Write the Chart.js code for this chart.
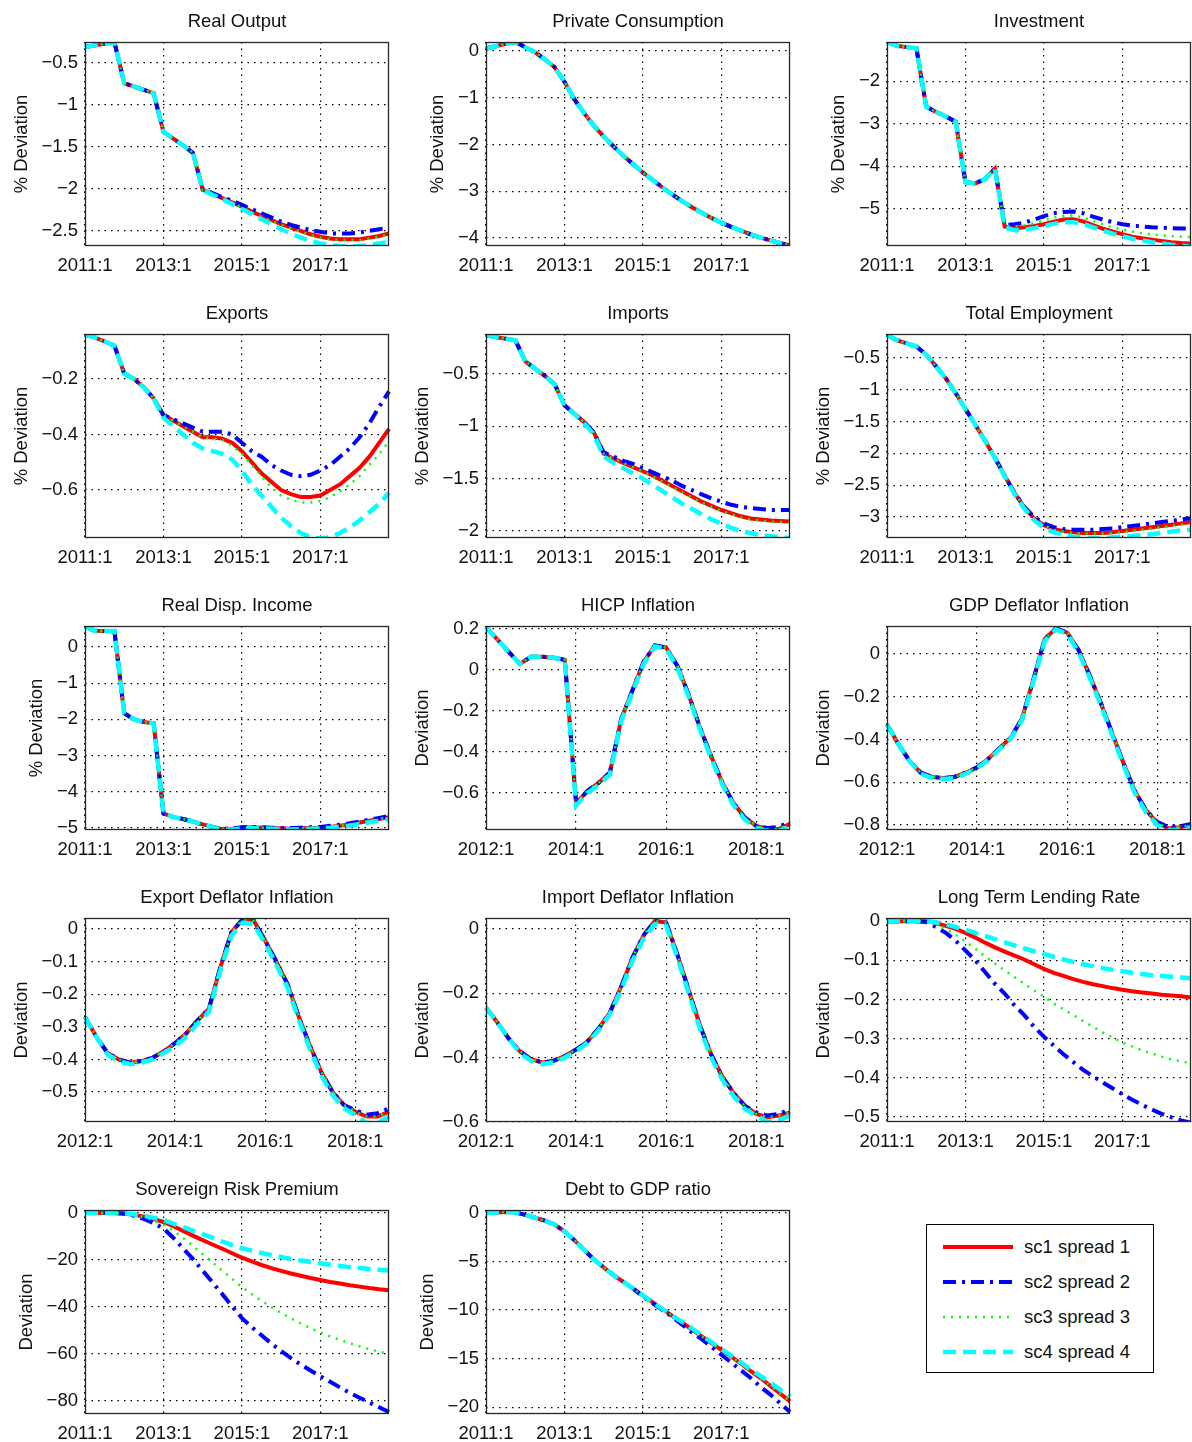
<!DOCTYPE html>
<html>
<head>
<meta charset="utf-8">
<script src="https://cdn.jsdelivr.net/npm/chart.js@4.4.1/dist/chart.umd.min.js"></script>
<style>
  body { margin: 0; background: #fff; overflow: hidden; }
  #page { position: relative; width: 1192px; height: 1442px; overflow: hidden; background: #fff; }
  #page canvas { position: absolute; }
  #legend { position: absolute; left: 926px; top: 1224px; width: 226px; height: 147px; border: 1px solid #000; background: #fff; }
  #legend span { position: absolute; left: 97px; height: 22px; line-height: 22px; font: 18.5px "Liberation Sans", Arial, sans-serif; color: #111; white-space: nowrap; }
</style>
</head>
<body>
<div id="page"></div>
<script>
// quarters on the x axis
const q2011 = ["2011:1","2011:2","2011:3","2011:4","2012:1","2012:2","2012:3","2012:4",
  "2013:1","2013:2","2013:3","2013:4","2014:1","2014:2","2014:3","2014:4",
  "2015:1","2015:2","2015:3","2015:4","2016:1","2016:2","2016:3","2016:4",
  "2017:1","2017:2","2017:3","2017:4","2018:1","2018:2","2018:3","2018:4"];
const q2012 = ["2012:1","2012:2","2012:3","2012:4",
  "2013:1","2013:2","2013:3","2013:4","2014:1","2014:2","2014:3","2014:4",
  "2015:1","2015:2","2015:3","2015:4","2016:1","2016:2","2016:3","2016:4",
  "2017:1","2017:2","2017:3","2017:4","2018:1","2018:2","2018:3","2018:4"];

const seriesNames = ["sc1 spread 1", "sc2 spread 2", "sc3 spread 3", "sc4 spread 4"];

// Real Output
const realOut1 = [-0.31,-0.29,-0.27,-0.25,-0.74,-0.78,-0.82,-0.86,-1.32,-1.40,-1.48,-1.57,-2.01,-2.06,-2.11,-2.16,-2.21,-2.27,-2.32,-2.37,-2.42,-2.46,-2.50,-2.54,-2.57,-2.59,-2.60,-2.60,-2.60,-2.58,-2.56,-2.53];
const realOut2 = [-0.31,-0.29,-0.27,-0.25,-0.74,-0.78,-0.82,-0.86,-1.32,-1.40,-1.48,-1.57,-2.00,-2.05,-2.10,-2.14,-2.19,-2.24,-2.29,-2.34,-2.39,-2.43,-2.46,-2.49,-2.51,-2.53,-2.53,-2.53,-2.52,-2.50,-2.48,-2.46];
const realOut3 = [-0.31,-0.29,-0.27,-0.25,-0.74,-0.78,-0.82,-0.86,-1.32,-1.40,-1.48,-1.57,-2.01,-2.06,-2.11,-2.16,-2.22,-2.28,-2.33,-2.38,-2.43,-2.47,-2.51,-2.55,-2.58,-2.60,-2.61,-2.61,-2.61,-2.59,-2.57,-2.54];
const realOut4 = [-0.31,-0.29,-0.27,-0.25,-0.74,-0.78,-0.82,-0.86,-1.32,-1.40,-1.48,-1.57,-2.01,-2.07,-2.12,-2.18,-2.24,-2.30,-2.36,-2.42,-2.48,-2.53,-2.58,-2.62,-2.65,-2.67,-2.68,-2.69,-2.68,-2.67,-2.65,-2.63];

// Private Consumption (all four scenarios overlap)
const privCons = [0.05,0.10,0.15,0.19,0.08,-0.03,-0.18,-0.35,-0.66,-1.03,-1.33,-1.60,-1.83,-2.04,-2.24,-2.42,-2.60,-2.76,-2.92,-3.07,-3.21,-3.34,-3.46,-3.57,-3.67,-3.76,-3.84,-3.92,-3.99,-4.05,-4.11,-4.16];

// Investment
const invest1 = [-1.08,-1.17,-1.20,-1.23,-2.60,-2.72,-2.83,-2.95,-4.37,-4.40,-4.30,-4.05,-5.41,-5.45,-5.43,-5.40,-5.36,-5.30,-5.25,-5.24,-5.29,-5.38,-5.46,-5.53,-5.59,-5.65,-5.69,-5.72,-5.75,-5.78,-5.80,-5.81];
const invest2 = [-1.08,-1.17,-1.20,-1.23,-2.60,-2.72,-2.83,-2.95,-4.37,-4.40,-4.30,-4.05,-5.38,-5.36,-5.32,-5.25,-5.17,-5.10,-5.07,-5.06,-5.10,-5.18,-5.25,-5.31,-5.36,-5.39,-5.41,-5.43,-5.44,-5.45,-5.46,-5.46];
const invest3 = [-1.08,-1.17,-1.20,-1.23,-2.60,-2.72,-2.83,-2.95,-4.37,-4.40,-4.30,-4.05,-5.40,-5.41,-5.38,-5.33,-5.27,-5.20,-5.16,-5.15,-5.20,-5.28,-5.36,-5.43,-5.48,-5.53,-5.57,-5.60,-5.62,-5.64,-5.65,-5.66];
const invest4 = [-1.08,-1.17,-1.20,-1.23,-2.60,-2.72,-2.83,-2.95,-4.37,-4.40,-4.30,-4.05,-5.43,-5.50,-5.49,-5.45,-5.40,-5.35,-5.31,-5.31,-5.35,-5.43,-5.51,-5.58,-5.64,-5.70,-5.74,-5.78,-5.81,-5.84,-5.86,-5.88];

// Exports
const exports1 = [-0.04,-0.05,-0.065,-0.08,-0.18,-0.20,-0.23,-0.27,-0.33,-0.35,-0.37,-0.39,-0.41,-0.41,-0.415,-0.43,-0.46,-0.50,-0.54,-0.57,-0.60,-0.615,-0.625,-0.625,-0.62,-0.60,-0.58,-0.55,-0.52,-0.48,-0.43,-0.38];
const exports2 = [-0.04,-0.05,-0.065,-0.08,-0.18,-0.20,-0.23,-0.27,-0.33,-0.345,-0.36,-0.375,-0.39,-0.39,-0.39,-0.40,-0.43,-0.46,-0.48,-0.51,-0.53,-0.545,-0.55,-0.545,-0.53,-0.51,-0.48,-0.45,-0.41,-0.36,-0.30,-0.245];
const exports3 = [-0.04,-0.05,-0.065,-0.08,-0.18,-0.20,-0.23,-0.27,-0.33,-0.35,-0.37,-0.39,-0.41,-0.415,-0.42,-0.44,-0.47,-0.51,-0.55,-0.59,-0.62,-0.635,-0.645,-0.645,-0.64,-0.625,-0.605,-0.58,-0.55,-0.51,-0.47,-0.425];
const exports4 = [-0.04,-0.05,-0.065,-0.08,-0.18,-0.20,-0.23,-0.27,-0.34,-0.37,-0.40,-0.43,-0.45,-0.46,-0.47,-0.49,-0.53,-0.58,-0.62,-0.66,-0.70,-0.73,-0.755,-0.77,-0.775,-0.77,-0.755,-0.735,-0.71,-0.68,-0.65,-0.61];

// Imports
const imports1 = [-0.13,-0.15,-0.165,-0.18,-0.38,-0.45,-0.52,-0.60,-0.80,-0.88,-0.96,-1.06,-1.26,-1.31,-1.35,-1.39,-1.43,-1.47,-1.52,-1.57,-1.62,-1.67,-1.72,-1.76,-1.80,-1.83,-1.86,-1.88,-1.89,-1.90,-1.905,-1.91];
const imports2 = [-0.13,-0.15,-0.165,-0.18,-0.38,-0.45,-0.52,-0.60,-0.80,-0.88,-0.96,-1.06,-1.25,-1.29,-1.33,-1.36,-1.40,-1.44,-1.48,-1.52,-1.57,-1.61,-1.65,-1.69,-1.72,-1.75,-1.77,-1.78,-1.79,-1.80,-1.80,-1.80];
const imports3 = [-0.13,-0.15,-0.165,-0.18,-0.38,-0.45,-0.52,-0.60,-0.80,-0.88,-0.96,-1.06,-1.26,-1.31,-1.35,-1.39,-1.43,-1.48,-1.53,-1.58,-1.63,-1.68,-1.73,-1.77,-1.81,-1.84,-1.87,-1.89,-1.90,-1.91,-1.915,-1.92];
const imports4 = [-0.13,-0.15,-0.165,-0.18,-0.38,-0.45,-0.52,-0.60,-0.80,-0.88,-0.97,-1.08,-1.29,-1.35,-1.40,-1.45,-1.50,-1.56,-1.62,-1.68,-1.74,-1.79,-1.84,-1.89,-1.93,-1.97,-2.00,-2.02,-2.04,-2.05,-2.06,-2.07];

// Total Employment
const employ1 = [-0.14,-0.22,-0.27,-0.32,-0.45,-0.63,-0.82,-1.05,-1.30,-1.55,-1.80,-2.07,-2.35,-2.62,-2.85,-3.02,-3.13,-3.19,-3.22,-3.24,-3.25,-3.25,-3.25,-3.24,-3.22,-3.20,-3.18,-3.16,-3.14,-3.12,-3.10,-3.08];
const employ2 = [-0.14,-0.22,-0.27,-0.32,-0.45,-0.63,-0.82,-1.05,-1.30,-1.55,-1.80,-2.07,-2.35,-2.62,-2.84,-3.00,-3.10,-3.16,-3.19,-3.20,-3.20,-3.20,-3.19,-3.18,-3.16,-3.14,-3.12,-3.10,-3.08,-3.06,-3.04,-3.02];
const employ3 = [-0.14,-0.22,-0.27,-0.32,-0.45,-0.63,-0.82,-1.05,-1.30,-1.55,-1.80,-2.07,-2.35,-2.62,-2.85,-3.02,-3.13,-3.20,-3.23,-3.25,-3.26,-3.26,-3.26,-3.25,-3.24,-3.22,-3.20,-3.18,-3.16,-3.14,-3.12,-3.10];
const employ4 = [-0.14,-0.22,-0.27,-0.32,-0.45,-0.63,-0.82,-1.05,-1.30,-1.55,-1.80,-2.07,-2.36,-2.64,-2.87,-3.05,-3.17,-3.24,-3.28,-3.31,-3.32,-3.33,-3.33,-3.32,-3.31,-3.30,-3.28,-3.27,-3.25,-3.23,-3.21,-3.20];

// Real Disp. Income
const dispInc1 = [0.56,0.45,0.44,0.44,-1.83,-2.00,-2.07,-2.11,-4.60,-4.70,-4.75,-4.82,-4.90,-4.97,-5.03,-5.02,-4.99,-4.98,-4.99,-5.00,-5.01,-5.02,-5.01,-5.00,-4.99,-4.97,-4.94,-4.90,-4.85,-4.80,-4.75,-4.70];
const dispInc2 = [0.56,0.45,0.44,0.44,-1.83,-2.00,-2.07,-2.11,-4.60,-4.70,-4.75,-4.82,-4.90,-4.97,-5.02,-5.01,-4.98,-4.97,-4.98,-4.99,-5.00,-5.00,-4.99,-4.98,-4.97,-4.94,-4.91,-4.87,-4.82,-4.77,-4.72,-4.67];
const dispInc3 = [0.56,0.45,0.44,0.44,-1.83,-2.00,-2.07,-2.11,-4.60,-4.70,-4.75,-4.82,-4.90,-4.97,-5.03,-5.02,-4.99,-4.98,-4.99,-5.00,-5.01,-5.02,-5.01,-5.00,-4.99,-4.97,-4.94,-4.90,-4.85,-4.80,-4.75,-4.70];
const dispInc4 = [0.56,0.45,0.44,0.44,-1.83,-2.00,-2.07,-2.11,-4.60,-4.70,-4.75,-4.82,-4.90,-4.97,-5.04,-5.04,-5.01,-5.00,-5.01,-5.02,-5.03,-5.04,-5.03,-5.02,-5.01,-4.99,-4.96,-4.93,-4.89,-4.84,-4.80,-4.76];

// HICP Inflation (from 2012:1)
const hicp1 = [0.21,0.15,0.09,0.03,0.065,0.065,0.06,0.05,-0.65,-0.59,-0.55,-0.50,-0.24,-0.10,0.04,0.12,0.11,0.02,-0.12,-0.28,-0.42,-0.55,-0.65,-0.72,-0.76,-0.775,-0.775,-0.75];
const hicp2 = [0.21,0.15,0.09,0.03,0.065,0.065,0.06,0.05,-0.65,-0.59,-0.55,-0.50,-0.24,-0.10,0.04,0.12,0.11,0.02,-0.12,-0.28,-0.42,-0.55,-0.65,-0.72,-0.76,-0.77,-0.765,-0.74];
const hicp3 = [0.21,0.15,0.09,0.03,0.065,0.065,0.06,0.05,-0.65,-0.59,-0.55,-0.50,-0.24,-0.10,0.04,0.12,0.11,0.02,-0.12,-0.28,-0.42,-0.55,-0.65,-0.72,-0.76,-0.775,-0.775,-0.75];
const hicp4 = [0.21,0.15,0.09,0.03,0.065,0.065,0.06,0.05,-0.66,-0.60,-0.56,-0.51,-0.25,-0.11,0.03,0.115,0.105,0.01,-0.13,-0.29,-0.43,-0.56,-0.66,-0.73,-0.77,-0.785,-0.785,-0.76];

// GDP Deflator Inflation
const gdpDef1 = [-0.33,-0.42,-0.50,-0.555,-0.575,-0.58,-0.575,-0.555,-0.53,-0.49,-0.44,-0.39,-0.30,-0.12,0.07,0.12,0.10,0.02,-0.10,-0.23,-0.37,-0.51,-0.64,-0.73,-0.79,-0.815,-0.81,-0.80];
const gdpDef2 = [-0.33,-0.42,-0.50,-0.555,-0.575,-0.58,-0.575,-0.555,-0.53,-0.49,-0.44,-0.39,-0.30,-0.12,0.07,0.12,0.10,0.02,-0.10,-0.23,-0.37,-0.51,-0.64,-0.73,-0.785,-0.81,-0.805,-0.795];
const gdpDef3 = [-0.33,-0.42,-0.50,-0.555,-0.575,-0.58,-0.575,-0.555,-0.53,-0.49,-0.44,-0.39,-0.30,-0.12,0.07,0.12,0.10,0.02,-0.10,-0.23,-0.37,-0.51,-0.64,-0.73,-0.79,-0.815,-0.81,-0.80];
const gdpDef4 = [-0.33,-0.42,-0.50,-0.56,-0.58,-0.585,-0.58,-0.56,-0.535,-0.495,-0.445,-0.395,-0.31,-0.13,0.06,0.115,0.095,0.01,-0.11,-0.24,-0.38,-0.52,-0.65,-0.74,-0.80,-0.825,-0.82,-0.81];

// Export Deflator Inflation
const expDef1 = [-0.27,-0.33,-0.38,-0.40,-0.41,-0.405,-0.395,-0.375,-0.35,-0.32,-0.28,-0.245,-0.12,-0.01,0.03,0.025,-0.035,-0.10,-0.17,-0.27,-0.36,-0.44,-0.50,-0.54,-0.56,-0.575,-0.575,-0.56];
const expDef2 = [-0.27,-0.33,-0.38,-0.40,-0.41,-0.405,-0.395,-0.375,-0.35,-0.32,-0.28,-0.245,-0.12,-0.01,0.03,0.025,-0.035,-0.10,-0.17,-0.27,-0.36,-0.44,-0.50,-0.54,-0.555,-0.57,-0.565,-0.55];
const expDef3 = [-0.27,-0.33,-0.38,-0.40,-0.41,-0.405,-0.395,-0.375,-0.35,-0.32,-0.28,-0.245,-0.12,-0.01,0.03,0.025,-0.035,-0.10,-0.17,-0.27,-0.36,-0.44,-0.50,-0.54,-0.56,-0.575,-0.575,-0.56];
const expDef4 = [-0.27,-0.33,-0.385,-0.405,-0.415,-0.41,-0.40,-0.38,-0.36,-0.33,-0.29,-0.255,-0.13,-0.02,0.02,0.015,-0.045,-0.11,-0.18,-0.28,-0.37,-0.45,-0.51,-0.55,-0.57,-0.595,-0.595,-0.575];

// Import Deflator Inflation
const impDef1 = [-0.245,-0.29,-0.34,-0.38,-0.405,-0.415,-0.41,-0.395,-0.375,-0.35,-0.31,-0.26,-0.18,-0.09,-0.02,0.025,0.02,-0.08,-0.19,-0.30,-0.39,-0.46,-0.51,-0.55,-0.575,-0.585,-0.58,-0.57];
const impDef2 = [-0.245,-0.29,-0.34,-0.38,-0.405,-0.415,-0.41,-0.395,-0.375,-0.35,-0.31,-0.26,-0.18,-0.09,-0.02,0.025,0.02,-0.08,-0.19,-0.30,-0.39,-0.46,-0.51,-0.55,-0.57,-0.58,-0.575,-0.56];
const impDef3 = [-0.245,-0.29,-0.34,-0.38,-0.405,-0.415,-0.41,-0.395,-0.375,-0.35,-0.31,-0.26,-0.18,-0.09,-0.02,0.025,0.02,-0.08,-0.19,-0.30,-0.39,-0.46,-0.51,-0.55,-0.575,-0.585,-0.58,-0.57];
const impDef4 = [-0.245,-0.29,-0.34,-0.385,-0.41,-0.42,-0.415,-0.40,-0.38,-0.355,-0.315,-0.265,-0.19,-0.10,-0.03,0.015,0.01,-0.09,-0.20,-0.31,-0.40,-0.47,-0.52,-0.56,-0.58,-0.60,-0.595,-0.58];

// Long Term Lending Rate
const lendRate1 = [0,0,0,0,0,-0.005,-0.012,-0.02,-0.03,-0.042,-0.055,-0.067,-0.078,-0.088,-0.098,-0.11,-0.122,-0.132,-0.14,-0.148,-0.155,-0.161,-0.166,-0.171,-0.175,-0.179,-0.182,-0.185,-0.188,-0.19,-0.192,-0.195];
const lendRate2 = [0,0,0,0,-0.002,-0.015,-0.03,-0.05,-0.075,-0.10,-0.13,-0.16,-0.185,-0.215,-0.24,-0.27,-0.295,-0.318,-0.34,-0.36,-0.38,-0.396,-0.412,-0.427,-0.442,-0.456,-0.469,-0.481,-0.492,-0.501,-0.509,-0.515];
const lendRate3 = [0,0,0,0,0,-0.008,-0.02,-0.035,-0.052,-0.07,-0.09,-0.108,-0.126,-0.143,-0.16,-0.177,-0.193,-0.21,-0.225,-0.24,-0.255,-0.27,-0.284,-0.297,-0.31,-0.32,-0.33,-0.338,-0.346,-0.353,-0.358,-0.363];
const lendRate4 = [0,0,0,0,0,-0.003,-0.008,-0.015,-0.022,-0.03,-0.038,-0.046,-0.054,-0.062,-0.07,-0.077,-0.084,-0.091,-0.098,-0.104,-0.11,-0.115,-0.12,-0.124,-0.128,-0.132,-0.135,-0.138,-0.14,-0.142,-0.144,-0.146];

// Sovereign Risk Premium
const riskPrem1 = [0,0,0,0,-0.2,-0.7,-1.5,-2.6,-3.8,-5.6,-7.6,-9.6,-11.5,-13.4,-15.2,-17.1,-19,-20.6,-22.1,-23.4,-24.6,-25.7,-26.7,-27.6,-28.5,-29.3,-30,-30.7,-31.3,-31.9,-32.4,-32.8];
const riskPrem2 = [0,0,0,0,-0.3,-1.2,-2.5,-4.3,-6.5,-10.5,-15,-19.5,-24.5,-29.5,-34.5,-39.7,-44.7,-48.5,-52,-55.5,-58.7,-61.7,-64.5,-67,-69.4,-71.8,-74.2,-76.5,-78.6,-80.6,-82.6,-84.7];
const riskPrem3 = [0,0,0,0,-0.2,-0.8,-1.8,-3.2,-5,-7.5,-10.5,-14,-17.5,-21,-24.5,-28,-31.5,-34.5,-37.3,-40,-42.5,-44.8,-47,-49,-50.8,-52.5,-54,-55.4,-56.7,-57.9,-59,-60];
const riskPrem4 = [0,0,0,0,-0.2,-0.6,-1.2,-2,-3,-4.5,-6,-7.5,-9,-10.6,-12.1,-13.6,-15,-16,-17,-17.9,-18.7,-19.5,-20.2,-20.8,-21.4,-22,-22.5,-23,-23.4,-23.8,-24.1,-24.4];

// Debt to GDP ratio
const debt1 = [0,0.05,0.1,0.05,-0.2,-0.5,-0.8,-1.2,-1.9,-2.8,-3.8,-4.8,-5.6,-6.4,-7.1,-7.8,-8.5,-9.2,-9.9,-10.6,-11.3,-12.0,-12.7,-13.4,-14.1,-14.8,-15.5,-16.3,-17.0,-17.8,-18.6,-19.4];
const debt2 = [0,0.05,0.1,0.05,-0.2,-0.5,-0.8,-1.2,-1.9,-2.8,-3.8,-4.8,-5.6,-6.4,-7.1,-7.8,-8.6,-9.3,-10.0,-10.7,-11.5,-12.3,-13.0,-13.8,-14.6,-15.4,-16.2,-17.0,-17.9,-18.7,-19.6,-20.5];
const debt3 = [0,0.05,0.1,0.05,-0.2,-0.5,-0.8,-1.2,-1.9,-2.8,-3.8,-4.8,-5.6,-6.4,-7.1,-7.8,-8.5,-9.2,-9.9,-10.6,-11.3,-12.0,-12.7,-13.4,-14.1,-14.8,-15.5,-16.3,-17.0,-17.8,-18.6,-19.4];
const debt4 = [0,0.05,0.1,0.05,-0.2,-0.5,-0.8,-1.2,-1.9,-2.8,-3.8,-4.8,-5.6,-6.4,-7.1,-7.8,-8.5,-9.2,-9.9,-10.6,-11.2,-11.9,-12.6,-13.3,-14.0,-14.7,-15.4,-16.1,-16.8,-17.5,-18.2,-18.9];

// y tick values per panel
const ticksRealOut = [-2.5, -2, -1.5, -1, -0.5];
const ticksPrivCons = [-4, -3, -2, -1, 0];
const ticksInvest = [-5, -4, -3, -2];
const ticksExports = [-0.6, -0.4, -0.2];
const ticksImports = [-2, -1.5, -1, -0.5];
const ticksEmploy = [-3, -2.5, -2, -1.5, -1, -0.5];
const ticksDispInc = [-5, -4, -3, -2, -1, 0];
const ticksHicp = [-0.6, -0.4, -0.2, 0, 0.2];
const ticksGdpDef = [-0.8, -0.6, -0.4, -0.2, 0];
const ticksExpDef = [-0.5, -0.4, -0.3, -0.2, -0.1, 0];
const ticksImpDef = [-0.6, -0.4, -0.2, 0];
const ticksLendRate = [-0.5, -0.4, -0.3, -0.2, -0.1, 0];
const ticksRiskPrem = [-80, -60, -40, -20, 0];
const ticksDebt = [-20, -15, -10, -5, 0];

const panels = [
  { title: "Real Output", ylab: "% Deviation", labels: q2011, series: [realOut1, realOut2, realOut3, realOut4], min: -2.68, max: -0.25, ticks: ticksRealOut },
  { title: "Private Consumption", ylab: "% Deviation", labels: q2011, series: [privCons, privCons, privCons, privCons], min: -4.17, max: 0.19, ticks: ticksPrivCons },
  { title: "Investment", ylab: "% Deviation", labels: q2011, series: [invest1, invest2, invest3, invest4], min: -5.87, max: -1.08, ticks: ticksInvest },
  { title: "Exports", ylab: "% Deviation", labels: q2011, series: [exports1, exports2, exports3, exports4], min: -0.773, max: -0.038, ticks: ticksExports },
  { title: "Imports", ylab: "% Deviation", labels: q2011, series: [imports1, imports2, imports3, imports4], min: -2.067, max: -0.12, ticks: ticksImports },
  { title: "Total Employment", ylab: "% Deviation", labels: q2011, series: [employ1, employ2, employ3, employ4], min: -3.33, max: -0.123, ticks: ticksEmploy },
  { title: "Real Disp. Income", ylab: "% Deviation", labels: q2011, series: [dispInc1, dispInc2, dispInc3, dispInc4], min: -5.055, max: 0.58, ticks: ticksDispInc },
  { title: "HICP Inflation", ylab: "Deviation", labels: q2012, series: [hicp1, hicp2, hicp3, hicp4], min: -0.78, max: 0.215, ticks: ticksHicp },
  { title: "GDP Deflator Inflation", ylab: "Deviation", labels: q2012, series: [gdpDef1, gdpDef2, gdpDef3, gdpDef4], min: -0.823, max: 0.131, ticks: ticksGdpDef },
  { title: "Export Deflator Inflation", ylab: "Deviation", labels: q2012, series: [expDef1, expDef2, expDef3, expDef4], min: -0.592, max: 0.034, ticks: ticksExpDef },
  { title: "Import Deflator Inflation", ylab: "Deviation", labels: q2012, series: [impDef1, impDef2, impDef3, impDef4], min: -0.6, max: 0.034, ticks: ticksImpDef },
  { title: "Long Term Lending Rate", ylab: "Deviation", labels: q2011, series: [lendRate1, lendRate2, lendRate3, lendRate4], min: -0.513, max: 0.008, ticks: ticksLendRate },
  { title: "Sovereign Risk Premium", ylab: "Deviation", labels: q2011, series: [riskPrem1, riskPrem2, riskPrem3, riskPrem4], min: -85.5, max: 1.3, ticks: ticksRiskPrem },
  { title: "Debt to GDP ratio", ylab: "Deviation", labels: q2011, series: [debt1, debt2, debt3, debt4], min: -20.7, max: 0.3, ticks: ticksDebt },
];

// line styles: red solid, blue dash-dot, green dotted, cyan dashed
const lineColors = ["#ff0000", "#0000ff", "#00ff00", "#00ffff"];
const lineWidths = [4, 4, 2.5, 4.5];
const lineDashes = [[], [13, 6, 3, 6], [2, 6], [13, 7]];

const FONT = '"Liberation Sans", Arial, sans-serif';
const FS = 18.5;
const TXT = "#111";
Chart.defaults.font.family = FONT;
Chart.defaults.font.size = FS;
Chart.defaults.color = TXT;

const fmt = (v) => (v < 0 ? "\u2212" : "") + Math.abs(v);

const page = document.getElementById("page");

panels.forEach((p, idx) => {
  const col = idx % 3;
  const row = Math.floor(idx / 3);
  const canvas = document.createElement("canvas");
  canvas.width = 400;
  canvas.height = 292;
  canvas.style.left = col * 401 + "px";
  canvas.style.top = row * 292 + "px";
  page.appendChild(canvas);

  // title, y label and the axes box
  const deco = {
    id: "deco" + idx,
    afterDatasetsDraw(chart) {
      const { ctx, chartArea: a } = chart;
      ctx.save();
      ctx.strokeStyle = "#262626";
      ctx.lineWidth = 1.3;
      ctx.strokeRect(a.left + 0.5, a.top + 0.5, a.right - a.left - 1, a.bottom - a.top - 1);
      ctx.restore();
    },
    afterDraw(chart) {
      const { ctx, chartArea: a } = chart;
      ctx.save();
      ctx.font = FS + "px " + FONT;
      ctx.fillStyle = TXT;
      ctx.textAlign = "center";
      ctx.textBaseline = "middle";
      ctx.fillText(p.title, (a.left + a.right) / 2, a.top - 20);
      const w = Math.max(...chart.scales.y.ticks.map((t) => ctx.measureText(t.label).width));
      ctx.translate(a.left - 7 - w - 20, (a.top + a.bottom) / 2);
      ctx.rotate(-Math.PI / 2);
      ctx.fillText(p.ylab, 0, 0);
      ctx.restore();
    },
  };

  new Chart(canvas.getContext("2d"), {
    type: "line",
    data: {
      labels: p.labels,
      datasets: p.series.map((vals, i) => ({
        label: seriesNames[i],
        data: vals,
        borderColor: lineColors[i],
        borderWidth: lineWidths[i],
        borderDash: lineDashes[i],
        pointRadius: 0,
        tension: 0,
        fill: false,
        order: 4 - i,
      })),
    },
    options: {
      responsive: false,
      animation: false,
      devicePixelRatio: 1,
      layout: { padding: { top: 42, right: 11, left: 0, bottom: 0 } },
      plugins: { legend: { display: false }, tooltip: { enabled: false } },
      scales: {
        x: {
          type: "category",
          grid: { color: "#000", lineWidth: 1.2, drawTicks: false },
          border: { display: false, dash: [1.5, 5] },
          ticks: { autoSkip: false, maxRotation: 0, minRotation: 0, padding: 9, color: TXT },
          afterBuildTicks: (ax) => { ax.ticks = ax.ticks.filter((t) => t.value % 8 === 0); },
          afterFit: (ax) => { ax.height = 46; },
        },
        y: {
          type: "linear",
          min: p.min,
          max: p.max,
          grid: { color: "#000", lineWidth: 1.2, drawTicks: false },
          border: { display: false, dash: [1.5, 5] },
          ticks: { padding: 7, color: TXT, callback: (v) => fmt(v) },
          afterBuildTicks: (ax) => { ax.ticks = p.ticks.map((v) => ({ value: v })); },
          afterFit: (ax) => { ax.width = 85; },
        },
      },
    },
    plugins: [deco],
  });
});

// legend box
const legend = document.createElement("div");
legend.id = "legend";
let svg = '<svg width="226" height="147" style="position:absolute;left:0;top:0">';
seriesNames.forEach((name, i) => {
  const y = 22 + i * 35;
  const dash = lineDashes[i].length ? lineDashes[i].join(" ") : "none";
  svg += '<line x1="16" x2="86" y1="' + y + '" y2="' + y + '" stroke="' + lineColors[i] +
    '" stroke-width="' + lineWidths[i] + '" stroke-dasharray="' + dash + '"/>';
});
svg += "</svg>";
legend.innerHTML = svg + seriesNames.map((n, i) => '<span style="top:' + (11 + i * 35) + 'px">' + n + "</span>").join("");
page.appendChild(legend);
</script>
</body>
</html>
